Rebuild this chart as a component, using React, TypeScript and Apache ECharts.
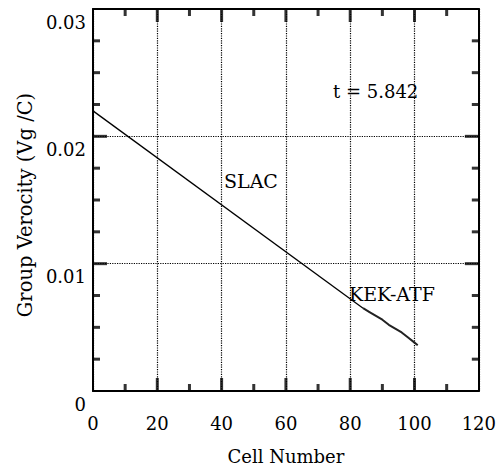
import React, { useEffect, useRef } from "react";
import * as echarts from "echarts";

const slacCells = [0, 84];
const slacValues = [0.022, 0.0065];
const kekCells = [84, 86, 88, 90, 92, 94, 96, 98, 100, 101];
const kekValues = [0.0065, 0.0062, 0.0059, 0.0056, 0.0052, 0.0049, 0.0046, 0.0042, 0.0038, 0.0036];
const xMajorTicks = [20, 40, 60, 80, 100];
const xMinorTicks = [10, 30, 50, 70, 90, 110];
const yMajorTicks = [0.01, 0.02];
const yMinorTicks = [0.0025, 0.005, 0.0075, 0.0125, 0.015, 0.0175, 0.0225, 0.025, 0.0275];
const X_MIN = 0;
const X_MAX = 120;
const Y_MIN = 0;
const Y_MAX = 0.03;
const annotations = [
  { text: "t = 5.842", x: 333, y: 94, size: 18 },
  { text: "SLAC", x: 224, y: 183, size: 19 },
  { text: "KEK-ATF", x: 349, y: 296, size: 19 },
];

const FONT = "DejaVu Serif";

function tickSeries(data: number[][], size: number[], offset: number[]) {
  return {
    type: "scatter",
    xAxisIndex: 0,
    yAxisIndex: 0,
    data,
    symbol: "rect",
    symbolSize: size,
    symbolOffset: offset,
    itemStyle: { color: "#000" },
    silent: true,
    clip: false,
    z: 5,
    emphasis: { disabled: true },
  };
}

export default function App() {
  const ref = useRef<HTMLDivElement>(null);
  useEffect(() => {
    document.body.style.margin = "0";
    const chart = echarts.init(ref.current!, null, { renderer: "svg" });
    const lineStyle = { color: "#000", width: 2 };
    const gridLine = { show: true, lineStyle: { type: "dotted", color: "#000", width: 1.2 } };
    const noTicks = { axisTick: { show: false }, minorTick: { show: false } };
    const T = 3;
    chart.setOption({
      animation: false,
      backgroundColor: "#fff",
      grid: { left: 93, top: 9, width: 386, height: 389 },
      xAxis: [
        {
          type: "value", min: X_MIN, max: X_MAX, interval: 20,
          position: "bottom",
          axisLine: { show: true, onZero: false, lineStyle },
          ...noTicks,
          name: "Cell Number",
          nameLocation: "middle",
          nameGap: 56,
          nameTextStyle: { fontFamily: FONT, fontSize: 18, color: "#000" },
          axisLabel: { fontFamily: FONT, fontSize: 18, color: "#000", margin: 23 },
          splitLine: gridLine,
        },
        {
          type: "value", min: X_MIN, max: X_MAX, interval: 20,
          position: "top",
          axisLine: { show: true, onZero: false, lineStyle },
          ...noTicks,
          axisLabel: { show: false },
          splitLine: { show: false },
        },
      ],
      yAxis: [
        {
          type: "value", min: Y_MIN, max: Y_MAX, interval: 0.01,
          position: "left",
          axisLine: { show: true, onZero: false, lineStyle },
          ...noTicks,
          name: "Group Verocity (Vg /C)",
          nameLocation: "middle",
          nameGap: 58,
          nameTextStyle: { fontFamily: FONT, fontSize: 19.5, color: "#000", padding: [0, 10, 0, 0] },
          axisLabel: {
            fontFamily: FONT, fontSize: 18, color: "#000", margin: 7, verticalAlign: "top",
            padding: [4, 0, 0, 0],
            formatter: (v: number) => (v === 0 ? "0" : v.toFixed(2)),
          },
          splitLine: gridLine,
        },
        {
          type: "value", min: Y_MIN, max: Y_MAX, interval: 0.01,
          position: "right",
          axisLine: { show: true, onZero: false, lineStyle },
          ...noTicks,
          axisLabel: { show: false },
          splitLine: { show: false },
        },
      ],
      series: [
        {
          type: "line", name: "SLAC", xAxisIndex: 0, yAxisIndex: 0,
          data: slacCells.map((c, i) => [c, slacValues[i]]),
          showSymbol: false, symbol: "none",
          lineStyle: { color: "#000", width: 1.3 },
        },
        {
          type: "line", name: "KEK-ATF", xAxisIndex: 0, yAxisIndex: 0,
          data: kekCells.map((c, i) => [c, kekValues[i]]),
          showSymbol: false, symbol: "none",
          lineStyle: { color: "#222", width: 2 },
        },
        tickSeries(xMajorTicks.map((v) => [v, Y_MIN]), [T, 13], [0, -6.5]),
        tickSeries(xMajorTicks.map((v) => [v, Y_MAX]), [T, 13], [0, 6.5]),
        tickSeries(xMinorTicks.map((v) => [v, Y_MIN]), [T, 7], [0, -3.5]),
        tickSeries(xMinorTicks.map((v) => [v, Y_MAX]), [T, 7], [0, 3.5]),
        tickSeries(yMajorTicks.map((v) => [X_MIN, v]), [14, T], [7, 0]),
        tickSeries(yMajorTicks.map((v) => [X_MAX, v]), [14, T], [-7, 0]),
        tickSeries(yMinorTicks.map((v) => [X_MIN, v]), [7, T], [3.5, 0]),
        tickSeries(yMinorTicks.map((v) => [X_MAX, v]), [7, T], [-3.5, 0]),
      ],
      graphic: annotations.map((a) => ({
        type: "text", left: a.x, top: a.y - 12,
        style: { text: a.text, fontFamily: FONT, fontSize: a.size, fill: "#000" },
      })),
    });
    return () => chart.dispose();
  }, []);
  return <div ref={ref} style={{ width: 499, height: 470 }} />;
}
